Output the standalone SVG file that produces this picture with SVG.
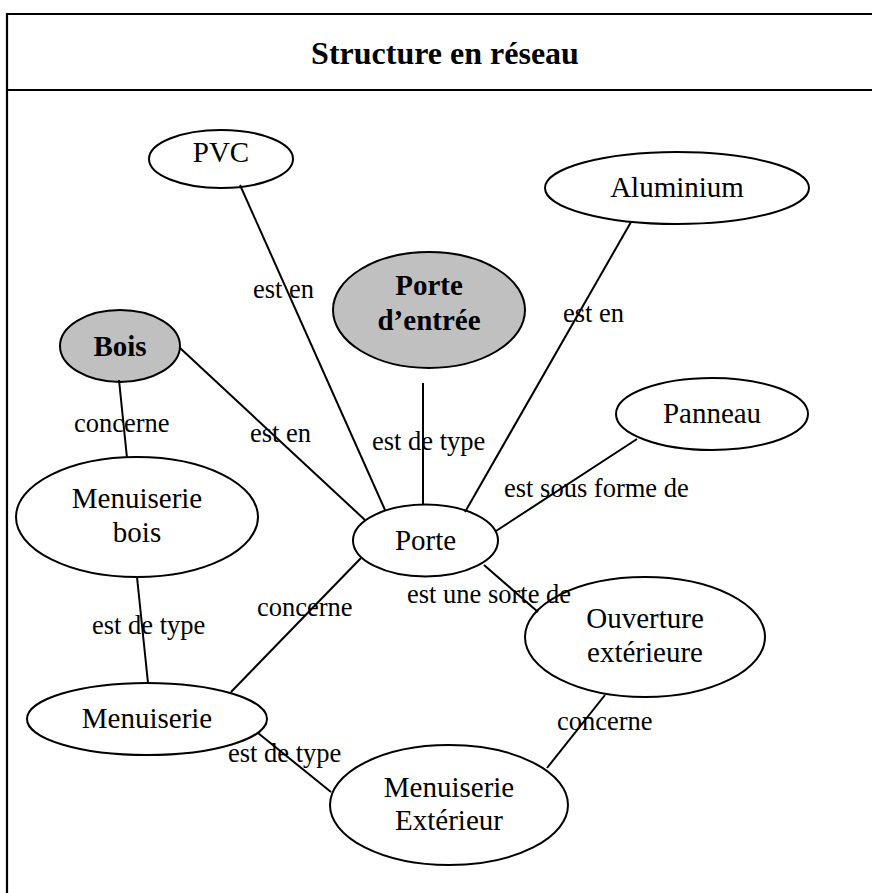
<svg xmlns="http://www.w3.org/2000/svg" width="872" height="893" viewBox="0 0 872 893">
<style>
  .frame{fill:none;stroke:#000;stroke-width:2.2}
  .node ellipse{fill:#fff;stroke:#000;stroke-width:2}
  .node.key ellipse{fill:#c0c0c0}
  .node text{font-family:"Liberation Serif","Times New Roman",serif;font-size:29px;text-anchor:middle;fill:#000}
  .node.key text{font-weight:bold}
  .title{font-family:"Liberation Serif","Times New Roman",serif;font-size:32px;font-weight:bold;text-anchor:middle}
  #connectors line{stroke:#000;stroke-width:2}
  #connectors text{font-family:"Liberation Serif","Times New Roman",serif;font-size:26.5px;fill:#000}
</style>
<rect x="0" y="0" width="872" height="893" fill="#fff"/>
<g id="frame">
  <line class="frame" x1="7" y1="14" x2="872" y2="14"/>
  <line class="frame" x1="7" y1="90" x2="872" y2="90"/>
  <line class="frame" x1="7" y1="13" x2="7" y2="893"/>
  <text class="title" x="445" y="64">Structure en réseau</text>
</g>
<g id="node-pvc" class="node"><ellipse cx="221" cy="159" rx="72" ry="29"/><text x="221" y="162">PVC</text></g>
<g id="node-aluminium" class="node"><ellipse cx="677" cy="188" rx="132" ry="36"/><text x="677" y="197">Aluminium</text></g>
<g id="node-porte-entree" class="node key"><ellipse cx="429" cy="310" rx="96" ry="58"/><text x="429" y="295">Porte</text><text x="429" y="330">d’entrée</text></g>
<g id="node-bois" class="node key"><ellipse cx="120" cy="346" rx="60" ry="36"/><text x="120" y="356">Bois</text></g>
<g id="node-panneau" class="node"><ellipse cx="712" cy="414" rx="96" ry="36"/><text x="712" y="423">Panneau</text></g>
<g id="node-menuiserie-bois" class="node"><ellipse cx="137" cy="517" rx="121" ry="60"/><text x="137" y="508">Menuiserie</text><text x="137" y="542">bois</text></g>
<g id="node-porte" class="node"><ellipse cx="425.5" cy="540.5" rx="72.5" ry="36"/><text x="425.5" y="550">Porte</text></g>
<g id="node-ouverture" class="node"><ellipse cx="645" cy="637" rx="120" ry="60"/><text x="645" y="628">Ouverture</text><text x="645" y="662">extérieure</text></g>
<g id="node-menuiserie" class="node"><ellipse cx="147" cy="719" rx="120" ry="36"/><text x="147" y="728">Menuiserie</text></g>
<g id="node-menuiserie-ext" class="node"><ellipse cx="449" cy="805" rx="119" ry="60"/><text x="449" y="797">Menuiserie</text><text x="449" y="830">Extérieur</text></g>
<g id="connectors">
  <line x1="240" y1="185" x2="385" y2="510"/>
  <line x1="180" y1="348" x2="365" y2="520"/>
  <line x1="423" y1="383" x2="423" y2="504"/>
  <line x1="119" y1="380" x2="127" y2="458"/>
  <line x1="631" y1="222" x2="465" y2="512"/>
  <line x1="637" y1="439" x2="496" y2="531"/>
  <line x1="484" y1="565" x2="538" y2="612"/>
  <line x1="137" y1="577" x2="148" y2="683"/>
  <line x1="361" y1="558" x2="231" y2="692"/>
  <line x1="258" y1="733" x2="331" y2="792"/>
  <line x1="605" y1="695" x2="547" y2="768"/>
  <text x="253" y="298">est en</text>
  <text x="250" y="442">est en</text>
  <text x="74" y="432">concerne</text>
  <text x="372" y="450">est de type</text>
  <text x="563" y="322">est en</text>
  <text x="504" y="497">est sous forme de</text>
  <text x="407" y="603">est une sorte de</text>
  <text x="257" y="616">concerne</text>
  <text x="92" y="634">est de type</text>
  <text x="228" y="762">est de type</text>
  <text x="557" y="730">concerne</text>
</g>
</svg>
